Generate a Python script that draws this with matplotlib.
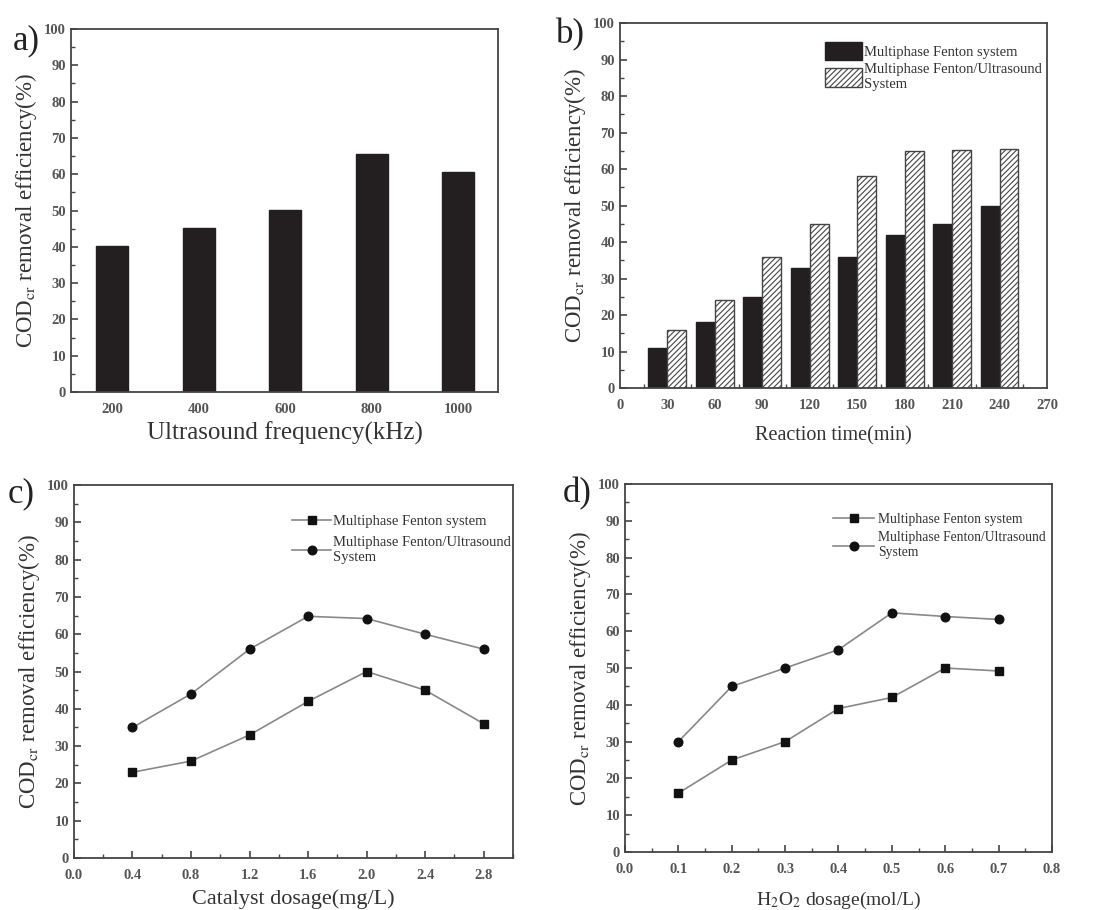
import numpy as np
import matplotlib
matplotlib.use('Agg')
import matplotlib.pyplot as plt
from matplotlib.ticker import MultipleLocator

plt.rcParams['font.family'] = ['Liberation Serif', 'DejaVu Serif']
plt.rcParams['mathtext.fontset'] = 'stix'
plt.rcParams['hatch.linewidth'] = 0.8
plt.rcParams['hatch.color'] = '#444444'

# a) ultrasound frequency
freq_labels = ['200', '400', '600', '800', '1000']
freq_eff = [40.1, 45.2, 50.2, 65.5, 60.5]

# b) reaction time
times = [30, 60, 90, 120, 150, 180, 210, 240]
time_fenton = [11, 18, 25, 33, 36, 42, 45, 50]
time_us = [16, 24, 36, 45, 58, 65, 65.1, 65.6]

# c) catalyst dosage
cat_dose = [0.4, 0.8, 1.2, 1.6, 2.0, 2.4, 2.8]
cat_fenton = [23, 26, 33, 42, 50, 45, 36]
cat_us = [35, 44, 56, 64.8, 64.2, 60, 56]

# d) H2O2 dosage
h2o2_dose = [0.1, 0.2, 0.3, 0.4, 0.5, 0.6, 0.7]
h2o2_fenton = [16, 25, 30, 39, 42, 50, 49.2]
h2o2_us = [30, 45, 50, 55, 65, 64, 63.2]

lab1 = 'Multiphase Fenton system'
lab2 = 'Multiphase Fenton/Ultrasound\nSystem'
ylab = r'COD$_{\mathrm{cr}}$ removal efficiency(%)'
axcol = '#444444'
txtcol = '#333333'


def style_axes(ax):
    """Common frame and tick look."""
    for s in ax.spines.values():
        s.set_color(axcol)
        s.set_linewidth(1.3)
    ax.tick_params(which='both', direction='in', top=False, right=False,
                   colors=axcol, labelcolor='#555555', labelsize=10.5)
    ax.tick_params(which='major', length=5, width=1.2)
    ax.tick_params(which='minor', length=3, width=1.0)
    ax.set_ylim(0, 100)
    ax.yaxis.set_major_locator(MultipleLocator(10))
    ax.yaxis.set_minor_locator(MultipleLocator(5))
    ax.set_ylabel(ylab, fontsize=16.5, color=txtcol, labelpad=4)


def bold_ticks(ax):
    for lbl in ax.get_xticklabels() + ax.get_yticklabels():
        lbl.set_fontweight('bold')


fig = plt.figure(figsize=(10.94, 9.10), dpi=100)

# a)
ax = fig.add_axes([0.0649, 0.5692, 0.3903, 0.3989])
pos = np.arange(len(freq_labels))
ax.bar(pos, freq_eff, width=0.37, color='#231f20', edgecolor='#231f20')
ax.set_xlim(-0.48, 4.46)
style_axes(ax)
ax.set_xticks(pos)
ax.set_xticklabels(freq_labels)
ax.tick_params(axis='x', which='both', length=0, pad=8)
bold_ticks(ax)
ax.set_xlabel('Ultrasound frequency(kHz)', fontsize=18, color=txtcol,
              labelpad=4)
fig.text(0.012, 0.955, 'a)', fontsize=25, color='#222222', va='center')

# b)
ax = fig.add_axes([0.5667, 0.5736, 0.3903, 0.4011])
t = np.array(times)
ax.bar(t - 6, time_fenton, width=12, color='#231f20', edgecolor='#231f20',
       label=lab1)
ax.bar(t + 6, time_us, width=12, color='white', edgecolor='#444444',
       hatch='//////', linewidth=1.0, label=lab2)
ax.set_xlim(0, 270)
style_axes(ax)
ax.xaxis.set_major_locator(MultipleLocator(30))
ax.xaxis.set_minor_locator(MultipleLocator(15))
ax.tick_params(axis='x', which='major', length=0, pad=8)
bold_ticks(ax)
ax.set_xlabel('Reaction time(min)', fontsize=14.5, color=txtcol, labelpad=10)
ax.legend(loc='upper right', bbox_to_anchor=(1.02, 0.985), frameon=False,
          fontsize=10.5, handlelength=2.5, handleheight=1.6,
          handletextpad=0.2, labelspacing=0.2, labelcolor=txtcol)
fig.text(0.508, 0.962, 'b)', fontsize=25, color='#222222', va='center')

# c)
ax = fig.add_axes([0.0676, 0.0571, 0.4013, 0.4099])
ax.plot(cat_dose, cat_fenton, color='#888888', lw=1.2, marker='s',
        ms=5.5, mfc='#111111', mec='#111111', label=lab1)
ax.plot(cat_dose, cat_us, color='#888888', lw=1.2, marker='o',
        ms=6.2, mfc='#111111', mec='#111111', label=lab2)
ax.set_xlim(0, 3.0)
style_axes(ax)
ax.xaxis.set_major_locator(MultipleLocator(0.4))
ax.xaxis.set_minor_locator(MultipleLocator(0.2))
ax.xaxis.set_major_formatter(plt.FormatStrFormatter('%.1f'))
ax.tick_params(axis='x', which='major', pad=8)
bold_ticks(ax)
ax.set_xlabel('Catalyst dosage(mg/L)', fontsize=16, color=txtcol,
              labelpad=5)
ax.legend(loc='upper right', bbox_to_anchor=(1.025, 0.955), frameon=False,
          fontsize=10.5, handlelength=2.7, handletextpad=0.1,
          labelspacing=0.55, labelcolor=txtcol)
fig.text(0.007, 0.457, 'c)', fontsize=25, color='#222222', va='center')

# d)
ax = fig.add_axes([0.5713, 0.0637, 0.3903, 0.4044])
ax.plot(h2o2_dose, h2o2_fenton, color='#888888', lw=1.2, marker='s',
        ms=5.5, mfc='#111111', mec='#111111', label=lab1)
ax.plot(h2o2_dose, h2o2_us, color='#888888', lw=1.2, marker='o',
        ms=6.2, mfc='#111111', mec='#111111', label=lab2)
ax.set_xlim(0, 0.8)
style_axes(ax)
ax.xaxis.set_major_locator(MultipleLocator(0.1))
ax.xaxis.set_minor_locator(MultipleLocator(0.05))
ax.xaxis.set_major_formatter(plt.FormatStrFormatter('%.1f'))
ax.tick_params(axis='x', which='major', pad=8)
bold_ticks(ax)
ax.set_xlabel(r'H$_2$O$_2$ dosage(mol/L)', fontsize=14, color=txtcol,
              labelpad=10)
ax.legend(loc='upper right', bbox_to_anchor=(1.015, 0.955), frameon=False,
          fontsize=9.8, handlelength=3.0, handletextpad=0.3,
          labelspacing=0.4, labelcolor=txtcol)
fig.text(0.514, 0.457, 'd)', fontsize=25, color='#222222', va='center')

fig.savefig('out.png', dpi=100)
